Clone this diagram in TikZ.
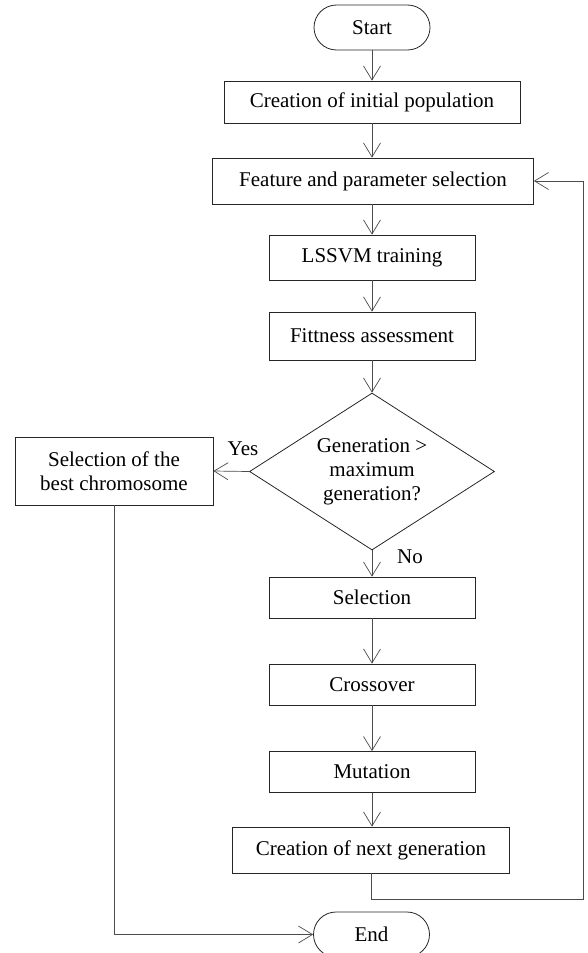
\documentclass[tikz,border=0pt]{standalone}
\usepackage{fontspec}
\setmainfont{Liberation Serif}
\usetikzlibrary{shapes.geometric,arrows.meta}
\begin{document}
\begin{tikzpicture}[x=1pt,y=-1pt,
  every node/.style={font=\fontsize{21}{24}\selectfont, text=black},
  box/.style={draw=black!85, line width=0.8pt, rectangle, minimum height=#1, inner sep=0pt},
  box/.default=45pt,
  term/.style={draw=black!85, line width=0.8pt, rectangle, rounded corners=22.5pt, minimum width=116pt, minimum height=45pt, inner sep=0pt},
  dec/.style={draw=black!85, line width=0.8pt, diamond, aspect=1.56, minimum width=245pt, minimum height=157pt, inner sep=0pt, align=center},
  arr/.style={draw=black!70, line width=0.7pt, -{Straight Barb[length=14pt,width=17pt,line width=0.7pt]}},
  con/.style={draw=black!70, line width=0.7pt}
]
\useasboundingbox (0,0) rectangle (587,953);
\node[term] (start) at (372,27.5) {Start};
\node[box=42pt, minimum width=296pt] (b1) at (372,102) {Creation of initial population};
\node[box=46pt, minimum width=321pt] (b2) at (373,181) {Feature and parameter selection};
\node[box=45pt, minimum width=206pt] (ls) at (372,257.5) {LSSVM training};
\node[box=48pt, minimum width=206pt] (fit) at (372,336) {Fittness assessment};
\node[dec] (dec) at (372,471.5) {Generation >\\maximum\\generation?};
\node[box=68pt, minimum width=198pt, align=center] (best) at (114,471) {Selection of the\\best chromosome};
\node[box=41pt, minimum width=206pt] (sel) at (372,597.5) {Selection};
\node[box=41pt, minimum width=206pt] (cro) at (372,684.5) {Crossover};
\node[box=41pt, minimum width=206pt] (mut) at (372,772) {Mutation};
\node[box=46pt, minimum width=277pt] (ng) at (371,850) {Creation of next generation};
\node[term] (end) at (371.5,934.5) {End};
\node (yes) at (243,449) {Yes};
\node (no) at (410,557) {No};
\coordinate (fb) at (583,899);
\draw[arr] (start) -- (b1);
\draw[arr] (b1) -- (b1 |- b2.north);
\draw[arr] (b2.south -| ls) -- (ls);
\draw[arr] (ls) -- (fit);
\draw[arr] (fit) -- (dec);
\draw[arr] (dec.west) -- (best.east);
\draw[arr] (dec) -- (sel);
\draw[arr] (sel) -- (cro);
\draw[arr] (cro) -- (mut);
\draw[arr] (mut) -- (mut |- ng.north);
\draw[arr] (ng.south) |- (fb) |- (b2.east);
\draw[arr] (best.south) |- (end.west);
\end{tikzpicture}
\end{document}
